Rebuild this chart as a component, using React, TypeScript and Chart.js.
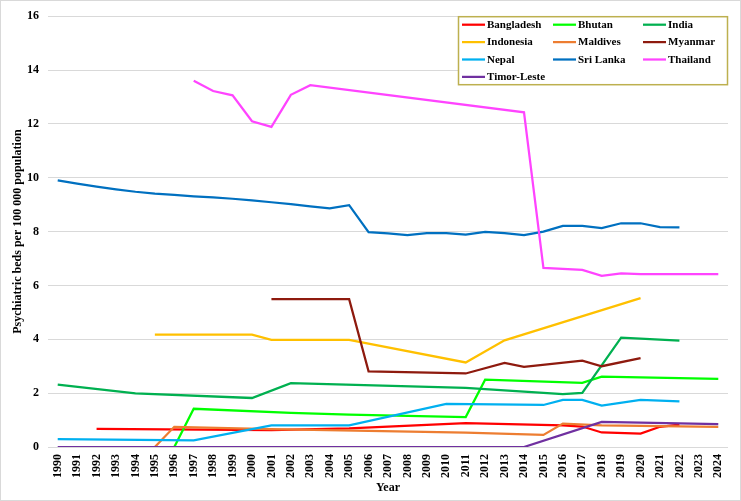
import { useEffect, useRef } from "react";
import { Chart, registerables } from "chart.js";

Chart.register(...registerables);

const _ = null;

// Years on the category axis
const years = [
  "1990", "1991", "1992", "1993", "1994", "1995", "1996", "1997", "1998", "1999",
  "2000", "2001", "2002", "2003", "2004", "2005", "2006", "2007", "2008", "2009",
  "2010", "2011", "2012", "2013", "2014", "2015", "2016", "2017", "2018", "2019",
  "2020", "2021", "2022", "2023", "2024",
];

// Psychiatric beds per 100 000 population (null = no report that year)
const bangladesh = [
  _, _, 0.67, _, _, _, _, _, _, _,
  _, 0.63, _, _, _, 0.69, _, _, _, _,
  _, 0.89, _, _, _, _, 0.8, 0.76, 0.54, _,
  0.5, 0.75, 0.83, _, _,
];
const bhutan = [
  _, _, _, _, _, _, 0, 1.42, _, _,
  _, _, 1.27, _, _, 1.2, _, _, _, _,
  _, 1.11, 2.5, _, _, _, _, 2.38, 2.61, _,
  _, _, _, _, 2.53,
];
const india = [
  2.32, _, _, _, 1.99, _, _, _, _, _,
  1.82, _, 2.37, _, _, _, _, _, _, _,
  _, 2.2, _, _, _, _, 1.96, 2.01, _, 4.06,
  _, _, 3.95, _, _,
];
const indonesia = [
  _, _, _, _, _, 4.17, _, _, _, _,
  4.17, 3.98, _, _, _, 3.98, _, _, _, _,
  _, 3.14, _, 3.96, _, _, _, _, _, _,
  5.53, _, _, _, _,
];
const maldives = [
  _, _, _, _, _, 0, 0.75, _, _, _,
  _, 0.66, _, _, _, _, _, _, _, _,
  _, 0.53, _, _, _, 0.45, 0.87, _, 0.8, _,
  _, _, _, _, 0.75,
];
const myanmar = [
  _, _, _, _, _, _, _, _, _, _,
  _, 5.49, _, _, _, 5.49, 2.81, _, _, _,
  _, 2.73, _, 3.12, 2.98, _, _, 3.21, 3.0, _,
  3.3, _, _, _, _,
];
const nepal = [
  0.29, _, _, _, _, _, _, 0.25, _, _,
  _, 0.8, _, _, _, 0.8, _, _, _, _,
  1.6, _, _, _, _, 1.56, 1.75, 1.75, 1.54, _,
  1.75, _, 1.69, _, _,
];
const sriLanka = [
  9.9, 9.78, 9.67, 9.57, 9.48, 9.41, 9.36, 9.31, 9.27, 9.22,
  9.16, 9.09, 9.02, 8.94, 8.86, 8.98, 7.98, 7.93, 7.87, 7.94,
  7.94, 7.89, 7.99, 7.94, 7.87, 8.0, 8.21, 8.21, 8.13, 8.31,
  8.31, 8.17, 8.16, _, _,
];
const thailand = [
  _, _, _, _, _, _, _, 13.6, 13.22, 13.06,
  12.1, 11.89, 13.08, 13.44, _, _, _, _, _, _,
  _, _, _, _, 12.43, 6.65, _, 6.58, 6.36, 6.45,
  6.42, _, _, _, 6.42,
];
const timorLeste = [
  0, 0, 0, 0, 0, 0, 0, 0, 0, 0,
  0, 0, 0, 0, 0, 0, 0, 0, 0, 0,
  0, 0, 0, 0, 0, _, _, _, 0.93, _,
  _, _, _, _, 0.85,
];

const countries = [
  "Bangladesh", "Bhutan", "India", "Indonesia", "Maldives",
  "Myanmar", "Nepal", "Sri Lanka", "Thailand", "Timor-Leste",
];
const seriesValues = [
  bangladesh, bhutan, india, indonesia, maldives,
  myanmar, nepal, sriLanka, thailand, timorLeste,
];
const colors = [
  "#FF0000", "#00FF00", "#00B050", "#FFC000", "#ED7D31",
  "#8E1A0E", "#00B0F0", "#0070C0", "#FF44FF", "#7030A0",
];

const yTicks = [0, 2, 4, 6, 8, 10, 12, 14, 16];

const FONT = "'Liberation Serif', 'Times New Roman', serif";

// Framed three-column legend in the top-right corner of the plot area,
// plus the light outer border of the whole chart.
const legendBox = {
  id: "legendBox",
  beforeDraw(chart: any) {
    const { ctx, width, height } = chart;
    ctx.save();
    ctx.fillStyle = "#FFFFFF";
    ctx.fillRect(0, 0, width, height);
    ctx.strokeStyle = "#D9D9D9";
    ctx.lineWidth = 1;
    ctx.strokeRect(0.5, 0.5, width - 1, height - 1);
    ctx.restore();
  },
  afterDraw(chart: any) {
    const { ctx, chartArea } = chart;
    const boxW = 270;
    const boxH = 69;
    const left = chartArea.right - boxW;
    const top = chartArea.top;
    ctx.save();
    ctx.fillStyle = "#FFFFFF";
    ctx.fillRect(left, top, boxW, boxH);
    ctx.strokeStyle = "#BDB04F";
    ctx.lineWidth = 1.5;
    ctx.strokeRect(left + 0.5, top + 0.5, boxW - 1, boxH - 1);
    const colX = [4, 95, 185];
    const rowH = 17.4;
    ctx.font = `bold 11px ${FONT}`;
    ctx.textBaseline = "middle";
    ctx.textAlign = "left";
    chart.data.datasets.forEach((ds: any, i: number) => {
      const col = i % 3;
      const row = Math.floor(i / 3);
      const x = left + colX[col];
      const y = top + 8.5 + row * rowH;
      ctx.strokeStyle = ds.borderColor;
      ctx.lineWidth = 2.25;
      ctx.beginPath();
      ctx.moveTo(x, y);
      ctx.lineTo(x + 23, y);
      ctx.stroke();
      ctx.fillStyle = "#000000";
      ctx.fillText(ds.label, x + 25, y + 0.5);
    });
    ctx.restore();
  },
};

export default function App() {
  const canvasRef = useRef<HTMLCanvasElement | null>(null);

  useEffect(() => {
    document.body.style.margin = "0";
    const canvas = canvasRef.current;
    if (!canvas) return;
    const n = countries.length;
    const chart = new Chart(canvas, {
      type: "line",
      data: {
        labels: years,
        datasets: countries.map((name, i) => ({
          label: name,
          data: seriesValues[i],
          borderColor: colors[i],
          backgroundColor: colors[i],
          borderWidth: 2.25,
          pointRadius: 0,
          pointHoverRadius: 0,
          tension: 0,
          spanGaps: true,
          fill: false,
          order: n - i,
        })),
      },
      options: {
        animation: false,
        responsive: false,
        devicePixelRatio: 1,
        layout: { padding: { top: 12, right: 13, bottom: 0, left: 0 } },
        plugins: {
          legend: { display: false },
          tooltip: { enabled: false },
          title: { display: false },
        },
        scales: {
          x: {
            type: "category",
            offset: true,
            grid: { display: false, drawTicks: false },
            border: { display: false },
            ticks: {
              autoSkip: false,
              minRotation: 90,
              maxRotation: 90,
              padding: 7,
              color: "#000000",
              font: { family: FONT, size: 12, weight: "bold" },
            },
            title: {
              display: true,
              text: "Year",
              color: "#000000",
              font: { family: FONT, size: 12, weight: "bold" },
              padding: { top: 0, bottom: 6 },
            },
            afterFit: (scale: any) => {
              scale.height = 54;
            },
          },
          y: {
            min: 0,
            max: 16,
            afterBuildTicks: (scale: any) => {
              scale.ticks = yTicks.map((v) => ({ value: v }));
            },
            grid: { color: "#D9D9D9", lineWidth: 1, drawTicks: false },
            border: { display: false },
            ticks: {
              padding: 9,
              color: "#000000",
              font: { family: FONT, size: 12, weight: "bold" },
            },
            title: {
              display: true,
              text: "Psychiatric beds per 100 000 population",
              color: "#000000",
              font: { family: FONT, size: 12, weight: "bold" },
              padding: { top: 11, bottom: 0 },
            },
            afterFit: (scale: any) => {
              scale.width = 48;
            },
          },
        },
      },
      plugins: [legendBox],
    });
    return () => chart.destroy();
  }, []);

  return (
    <div style={{ width: 741, height: 501 }}>
      <canvas ref={canvasRef} width={741} height={501} style={{ display: "block" }} />
    </div>
  );
}
